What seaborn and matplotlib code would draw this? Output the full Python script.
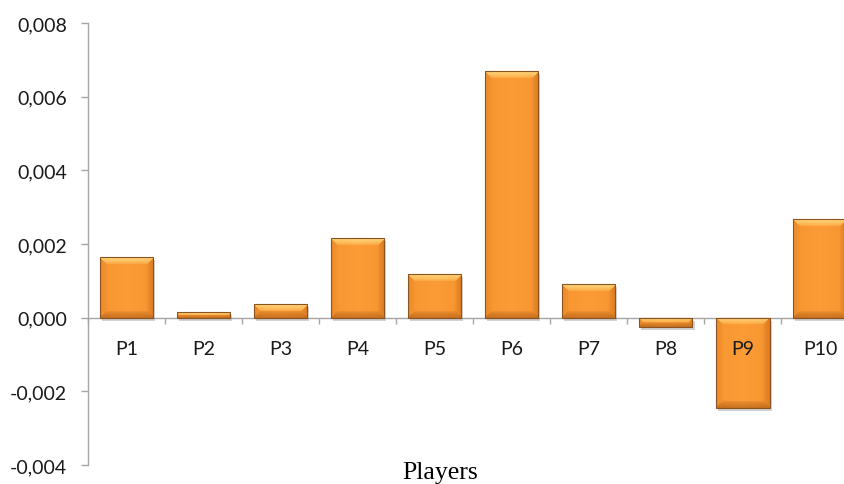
import numpy as np
import pandas as pd
import matplotlib
matplotlib.use("Agg")
import matplotlib.pyplot as plt
import seaborn as sns
from matplotlib import patheffects as pe
from matplotlib.patches import Rectangle
from matplotlib.ticker import FuncFormatter

# Data
players = ["P1", "P2", "P3", "P4", "P5", "P6", "P7", "P8", "P9", "P10"]
values = [0.00165, 0.00015, 0.00038, 0.00216, 0.00119, 0.0067, 0.00092,
          -0.00025, -0.00245, 0.00268]
y_ticks = [-0.004, -0.002, 0.0, 0.002, 0.004, 0.006, 0.008]
x_title = "Players"

sns.set_theme(style="white")
plt.rcParams["font.family"] = ["Lato", "DejaVu Sans"]

fig = plt.figure(figsize=(8.45, 4.85), dpi=100)
ax = fig.add_axes([0.104, 0.039, 0.912, 0.9113])

df = pd.DataFrame({"Player": players, "Value": values})
sns.barplot(data=df, x="Player", y="Value", color="#F5952F", saturation=1,
            width=0.69, edgecolor="none", linewidth=0, ax=ax)

ax.set_xlim(-0.5, len(players) - 0.5)
ax.set_ylim(y_ticks[0], y_ticks[-1])
ax.set_xlabel("")
ax.set_ylabel("")

axis_grey = "#A6A6A6"
for side in ("top", "right"):
    ax.spines[side].set_visible(False)
ax.spines["left"].set_color(axis_grey)
ax.spines["left"].set_linewidth(1.0)
ax.spines["bottom"].set_color(axis_grey)
ax.spines["bottom"].set_linewidth(1.0)
ax.spines["bottom"].set_position(("data", 0))
ax.spines["bottom"].set_zorder(1.5)

# y axis
ax.set_yticks(y_ticks)
ax.yaxis.set_major_formatter(
    FuncFormatter(lambda v, _: f"{v:.3f}".replace(".", ",").replace("-0,000", "0,000")))
ax.tick_params(axis="y", which="major", left=True, direction="out", length=5,
               width=1.0, color=axis_grey, pad=10, labelsize=14, labelcolor="#1a1a1a")

# x axis: boundary ticks, centred category labels drawn above the bars
n = len(players)
ax.set_xticks(np.arange(-0.5, n, 1.0))
ax.set_xticklabels([])
ax.set_xticks(np.arange(n), minor=True)
ax.set_xticklabels(players, minor=True)
ax.tick_params(axis="x", which="major", bottom=True, direction="out", length=4.5,
               width=1.0, color=axis_grey)
ax.tick_params(axis="x", which="minor", bottom=True, length=0, pad=16,
               labelsize=14, labelcolor="#1a1a1a")
ax.xaxis.set_zorder(3)

# Bevel shading for each bar
body = np.array([0.968, 0.59, 0.19])
top_c = np.array([0.995, 0.82, 0.45])
left_c = np.array([0.925, 0.545, 0.165])
right_c = np.array([0.87, 0.49, 0.14])
bot_c = np.array([0.78, 0.44, 0.12])
edge_c = "#8A5322"

bars = list(ax.patches)
for p in bars:
    x0, w = p.get_x(), p.get_width()
    ylo = min(p.get_y(), p.get_y() + p.get_height())
    yhi = max(p.get_y(), p.get_y() + p.get_height())
    p.set_path_effects([pe.SimplePatchShadow(offset=(1.5, -2.0),
                                             shadow_rgbFace="#7f7f7f", alpha=0.35),
                        pe.Normal()])
    p.set_zorder(2)
    (px0, py0) = ax.transData.transform((x0, ylo))
    (px1, py1) = ax.transData.transform((x0 + w, yhi))
    wpx = max(int(round(px1 - px0)), 2)
    hpx = max(int(round(py1 - py0)), 2)
    b = min(7.0, hpx / 2.0, wpx / 2.0)
    rr, cc = np.mgrid[0:hpx, 0:wpx].astype(float)
    dt, db = rr, hpx - 1 - rr
    dl, dr = cc, wpx - 1 - cc
    dists = np.stack([dt, db, dl, dr])
    which = np.argmin(dists, axis=0)
    dmin = np.min(dists, axis=0)
    cols = np.stack([top_c, bot_c, left_c, right_c])
    edge_col = cols[which]
    wgt = np.clip(1 - dmin / b, 0, 1) ** 0.6
    img = body * (1 - wgt[..., None]) + edge_col * wgt[..., None]
    # subtle lift through the middle of the bar face
    mid = 1 - np.abs((cc - (wpx - 1) / 2) / max((wpx - 1) / 2, 1))
    img = np.clip(img + 0.02 * mid[..., None], 0, 1)
    im = ax.imshow(img, extent=(x0, x0 + w, ylo, yhi), origin="upper",
                   aspect="auto", interpolation="bilinear", zorder=2.2)
    im.set_clip_path(p)
    ax.add_patch(Rectangle((x0, ylo), w, yhi - ylo, fill=False,
                           edgecolor=edge_c, linewidth=0.8, zorder=2.4))

ax.set_xlim(-0.5, n - 0.5)
ax.set_ylim(y_ticks[0], y_ticks[-1])

fig.text(440 / 845, 1 - 479 / 485, x_title, ha="center", va="baseline",
         fontsize=18.5, family=["Liberation Serif", "DejaVu Serif"], color="black")

fig.savefig("out.png", dpi=100)
